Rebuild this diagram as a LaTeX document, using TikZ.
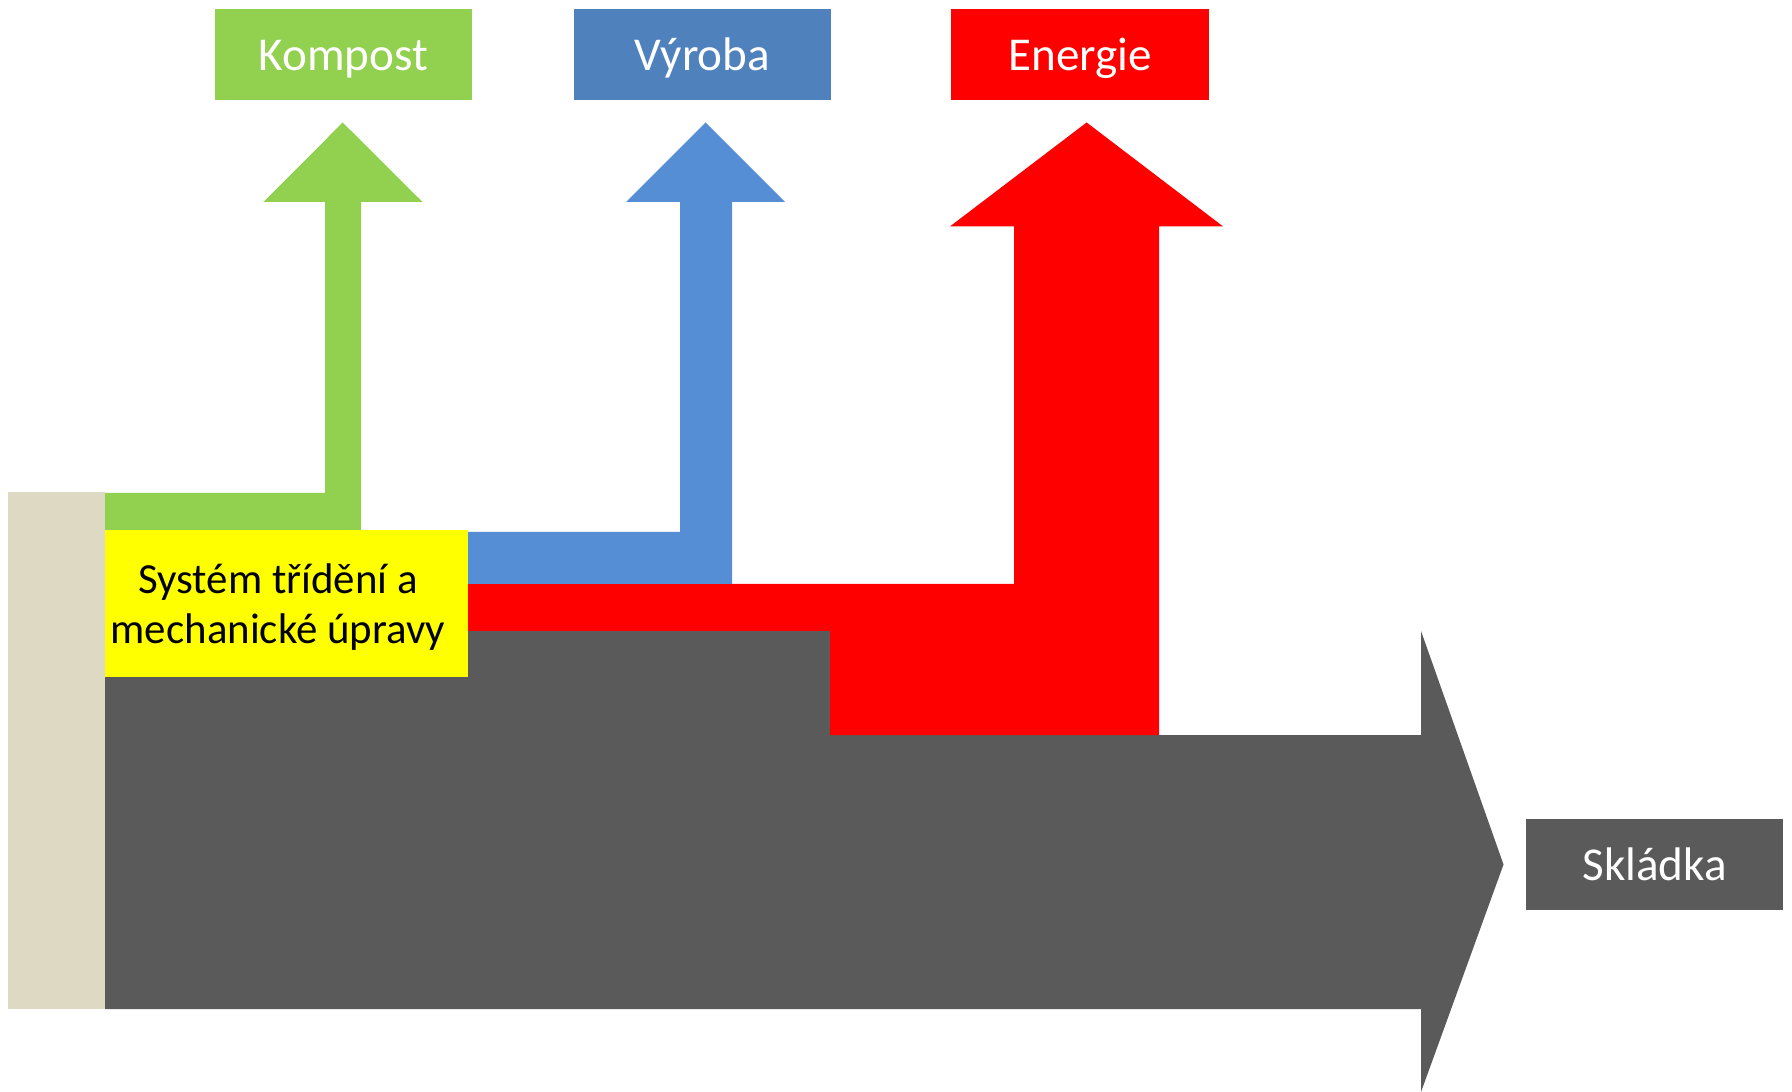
\documentclass[tikz,border=0pt]{standalone}
\usepackage{fontspec}
\setmainfont{Carlito}
\definecolor{kgreen}{HTML}{92D050}
\definecolor{vbox}{HTML}{4F81BD}
\definecolor{varrow}{HTML}{558ED5}
\definecolor{ered}{HTML}{FF0000}
\definecolor{sgray}{HTML}{5A5A5A}
\definecolor{beige}{HTML}{DDD9C3}
\definecolor{syellow}{HTML}{FFFF00}
\tikzset{
  labelbox/.style={inner sep=0pt, minimum width=2.57cm, minimum height=0.91cm,
    text=white, font=\fontsize{13.4pt}{16pt}\selectfont, text height=0.64em, text depth=0pt},
  labeltext/.style={inner sep=0pt, text=white, font=\fontsize{13.4pt}{16pt}\selectfont,
    text height=0.64em, text depth=0pt},
}
\begin{document}
\begin{tikzpicture}[x=0.01cm,y=-0.01cm]
\useasboundingbox (0,0) rectangle (1792,1092);
% beige source bar
\fill[beige] (8,492) rectangle (105,1009);
% gray main flow to landfill
\fill[sgray] (105,631) -- (830,631) -- (830,735) -- (1421,735) -- (1421,631)
  -- (1503.5,864.5) -- (1421,1092) -- (1421,1009) -- (105,1009) -- cycle;
% red flow to energy
\fill[ered] (105,584) -- (1014,584) -- (1014,226.4) -- (950,226.4) -- (1086.6,122.5)
  -- (1223,226.4) -- (1159,226.4) -- (1159,735) -- (830,735) -- (830,631) -- (105,631) -- cycle;
% blue flow to production
\fill[varrow] (105,532) -- (680,532) -- (680,202) -- (626,202) -- (705.5,122.5)
  -- (785,202) -- (732,202) -- (732,584) -- (105,584) -- cycle;
% green flow to compost
\fill[kgreen] (105,493) -- (325,493) -- (325,202) -- (263.5,202) -- (342.7,122.5)
  -- (422.5,202) -- (361,202) -- (361,530) -- (105,530) -- cycle;
% sorting system box
\fill[syellow] (105,530) rectangle (468,677);
\node[align=center, inner sep=0pt, font=\fontsize{12.2pt}{14.3pt}\selectfont] (sys) at (278,607)
  {Systém třídění a\\mechanické úpravy};
% label boxes
\node[labelbox, fill=kgreen] (kompost) at (343.4,54.5) {};
\node[labelbox, fill=vbox] (vyroba) at (702.5,54.5) {};
\node[labelbox, fill=ered] (energie) at (1080,54.5) {};
\node[labelbox, fill=sgray] (skladka) at (1654.6,864.6) {};
\node[labeltext] (tkompost) at ([yshift=-0.05cm]kompost.center) {Kompost};
\node[labeltext] (tvyroba) at ([yshift=-0.05cm]vyroba.center) {Výroba};
\node[labeltext] (tenergie) at ([yshift=-0.05cm]energie.center) {Energie};
\node[labeltext] (tskladka) at ([yshift=-0.05cm]skladka.center) {Skládka};
\end{tikzpicture}
\end{document}
